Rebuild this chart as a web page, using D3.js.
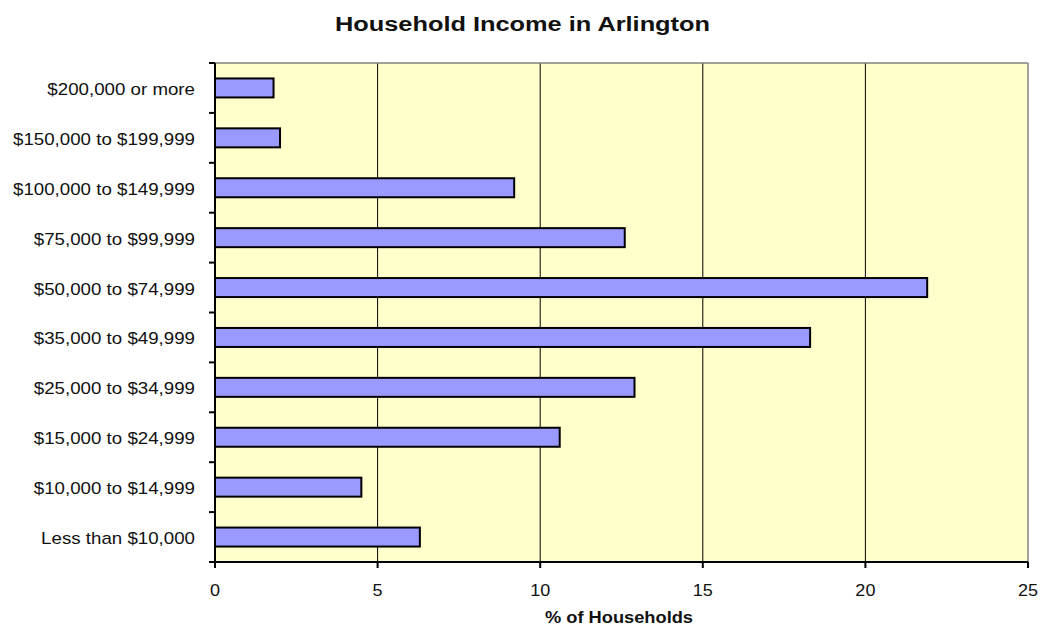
<!DOCTYPE html>
<html><head><meta charset="utf-8">
<script src="https://cdn.jsdelivr.net/npm/d3@7"></script>
<style>body{margin:0;background:#fff;font-family:"Liberation Sans",Arial,sans-serif;}</style>
</head><body><svg id="c" width="1042" height="625"></svg>
<script>
const categories = ["Less than $10,000","$10,000 to $14,999","$15,000 to $24,999","$25,000 to $34,999","$35,000 to $49,999","$50,000 to $74,999","$75,000 to $99,999","$100,000 to $149,999","$150,000 to $199,999","$200,000 or more"];
const values = [6.3,4.5,10.6,12.9,18.3,21.9,12.6,9.2,2.0,1.8];
const xTicks = [0,5,10,15,20,25];
const title = "Household Income in Arlington";
const xTitle = "% of Households";

const svg = d3.select("#c");
const L=215, R=1028, T=63, B=562;
const x = d3.scaleLinear().domain([0,25]).range([L,R]);
const y = d3.scaleBand().domain(categories.slice().reverse()).range([T,B]).paddingInner(0).paddingOuter(0);
const font = '"Liberation Sans",Arial,sans-serif';

function stretch(sel, f){
  sel.each(function(){
    const w = this.getComputedTextLength();
    d3.select(this).attr("textLength", w*f).attr("lengthAdjust","spacingAndGlyphs");
  });
}

svg.append("rect").attr("x",L).attr("y",T).attr("width",R-L).attr("height",B-T).attr("fill","#ffffcc");
// gridlines
svg.selectAll(".g").data(xTicks.filter(d=>d>0&&d<25)).enter().append("line")
  .attr("x1",d=>x(d)).attr("x2",d=>x(d)).attr("y1",T).attr("y2",B).attr("stroke","#000").attr("stroke-width",1);
// border top/right gray
svg.append("line").attr("x1",L).attr("x2",R).attr("y1",T).attr("y2",T).attr("stroke","#808080").attr("stroke-width",1.5);
svg.append("line").attr("x1",R).attr("x2",R).attr("y1",T).attr("y2",B).attr("stroke","#808080").attr("stroke-width",1.5);
// bars
const bh = 19;
svg.selectAll(".bar").data(categories).enter().append("rect")
  .attr("x",x(0)).attr("y",(d)=>y(d)+y.bandwidth()/2-bh/2)
  .attr("width",(d,i)=>x(values[i])-x(0)).attr("height",bh)
  .attr("fill","#9999ff").attr("stroke","#000").attr("stroke-width",2);
// y axis
svg.append("line").attr("x1",L).attr("x2",L).attr("y1",T).attr("y2",B).attr("stroke","#000").attr("stroke-width",2);
const bounds = categories.map(c=>y(c)).concat([B]);
svg.selectAll(".yt").data(bounds).enter().append("line")
  .attr("x1",L-6).attr("x2",L).attr("y1",d=>d).attr("y2",d=>d).attr("stroke","#000").attr("stroke-width",2);
const yl = svg.selectAll(".yl").data(categories).enter().append("text")
  .attr("x",195).attr("y",d=>y(d)+y.bandwidth()/2+1).attr("dy","0.35em")
  .attr("text-anchor","end").attr("font-family",font).attr("font-size",17).attr("fill","#111").text(d=>d);
stretch(yl, 1.1);
// x axis
svg.append("line").attr("x1",L).attr("x2",R).attr("y1",B).attr("y2",B).attr("stroke","#000").attr("stroke-width",2);
svg.selectAll(".xt").data(xTicks).enter().append("line")
  .attr("x1",d=>x(d)).attr("x2",d=>x(d)).attr("y1",B).attr("y2",B+6).attr("stroke","#000").attr("stroke-width",2);
const xl = svg.selectAll(".xl").data(xTicks).enter().append("text")
  .attr("x",d=>x(d)).attr("y",590).attr("dy","0.35em").attr("text-anchor","middle")
  .attr("font-family",font).attr("font-size",17).attr("fill","#111").text(d=>d);
stretch(xl, 1.06);
svg.append("text").attr("x",619).attr("y",617.5).attr("dy","0.35em").attr("text-anchor","middle")
  .attr("font-family",font).attr("font-size",16).attr("font-weight","bold").attr("fill","#111")
  .attr("textLength",148).attr("lengthAdjust","spacingAndGlyphs").text(xTitle);
svg.append("text").attr("x",522.5).attr("y",23.5).attr("dy","0.35em").attr("text-anchor","middle")
  .attr("font-family",font).attr("font-size",20).attr("font-weight","bold").attr("fill","#111")
  .attr("textLength",375).attr("lengthAdjust","spacingAndGlyphs").text(title);
</script></body></html>
